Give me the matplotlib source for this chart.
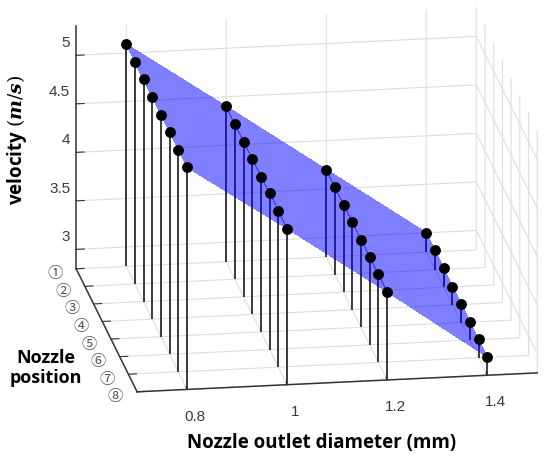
import numpy as np
import matplotlib
matplotlib.use("Agg")   # no display in the sandbox
import matplotlib.pyplot as plt
from mpl_toolkits.mplot3d import proj3d

# --- data ------------------------------------------------------------------
diameters = [0.8, 1.0, 1.2, 1.4]                 # nozzle outlet diameter (mm)
positions = [1, 2, 3, 4, 5, 6, 7, 8]             # nozzle position index
position_labels = ["①", "②", "③", "④", "⑤", "⑥", "⑦", "⑧"]

# velocity (m/s) per diameter, one value per nozzle position
vel_d08 = [5.09, 5.09, 5.09, 5.09, 5.09, 5.09, 5.09, 5.09]
vel_d10 = [4.40, 4.40, 4.40, 4.40, 4.40, 4.41, 4.41, 4.41]
vel_d12 = [3.70, 3.70, 3.70, 3.70, 3.70, 3.71, 3.71, 3.71]
vel_d14 = [3.00, 3.00, 3.00, 2.99, 2.99, 2.99, 2.99, 2.99]

x_ticks = [0.8, 1.0, 1.2, 1.4]
x_tick_labels = ["0.8", "1", "1.2", "1.4"]
z_ticks = [3, 3.5, 4, 4.5, 5]
z_tick_labels = ["3", "3.5", "4", "4.5", "5"]

X_LIM = (0.7, 1.5)
Y_LIM = (8, 1)          # reversed: position 1 at the back
Z_LIM = (2.8, 5.3)

# where the box corners sit in the reference image (pixels, y down)
BOX_CORNERS = [(0.7, 1, 2.8), (0.7, 8, 2.8), (1.5, 8, 2.8), (1.5, 1, 5.3), (0.7, 1, 5.3)]
BOX_TARGETS = [(76, 269), (138, 392), (537, 373), (476, 7), (76, 26)]

plt.rcParams["font.family"] = ["Liberation Sans", "DejaVu Sans"]
plt.rcParams["grid.color"] = "#dedede"
plt.rcParams["grid.linewidth"] = 0.8
plt.rcParams["mathtext.fontset"] = "custom"
plt.rcParams["mathtext.it"] = "DejaVu Serif:italic:bold"
plt.rcParams["mathtext.rm"] = "DejaVu Serif"

LABEL_FONT = dict(family=["Open Sans", "DejaVu Sans"], fontweight="bold", color="black")
TICK_COLOR = "#3a3a3a"


def fit_box(ax, corners, targets):
    """Move/scale the 3D axes so the given box corners land on target pixels."""
    fig = ax.figure
    fig.canvas.draw()
    W, H = fig.bbox.width, fig.bbox.height
    xs, ys, _ = proj3d.proj_transform(*np.array(corners, dtype=float).T, ax.get_proj())
    now = ax.transData.transform(np.column_stack([xs, ys]))
    goal = np.array([(px, H - py) for px, py in targets], dtype=float)
    d_now = now - now.mean(0)
    d_goal = goal - goal.mean(0)
    k = (d_now * d_goal).sum() / (d_now ** 2).sum()
    pos = ax.get_position()
    centre = np.array([(pos.x0 + pos.x1) / 2 * W, (pos.y0 + pos.y1) / 2 * H])
    size = pos.width * W * k
    c_new = goal.mean(0) + k * (centre - now.mean(0))
    ax.set_position([(c_new[0] - size / 2) / W, (c_new[1] - size / 2) / H,
                     size / W, size / H])


def label_at(ax, x, y, z, text, **kw):
    """Flat 2D text anchored at the projection of a 3D point."""
    xs, ys, _ = proj3d.proj_transform(x, y, z, ax.get_proj())
    ax.text2D(xs, ys, text, transform=ax.transData, **kw)


V = np.column_stack([vel_d08, vel_d10, vel_d12, vel_d14])
X, Y = np.meshgrid(diameters, positions)

fig = plt.figure(figsize=(5.5, 4.65), dpi=100)
ax = fig.add_axes([0.1, 0.02, 0.8, 0.8 * 550 / 465], projection="3d",
                  proj_type="ortho", computed_zorder=False)

stems = ax.stem(X.ravel(), Y.ravel(), V.ravel(), bottom=Z_LIM[0],
                linefmt="-", markerfmt="o", basefmt="-")
stems.baseline.set_visible(False)
stems.stemlines.set_color("#2b2b2b")
stems.stemlines.set_linewidth(1.3)
stems.stemlines.set_zorder(2)
stems.markerline.set(color="black", markerfacecolor="black", markersize=6.8, zorder=4)

# one facet per diameter step: velocity is flat along the positions
ax.plot_surface(X, Y, V, color=(0, 0, 1), alpha=0.5, shade=False,
                rstride=len(positions) - 1, cstride=1,
                linewidth=0, edgecolor="none", antialiased=False, zorder=3)

ax.set_xlim(*X_LIM)
ax.set_ylim(*Y_LIM)
ax.set_zlim(*Z_LIM)
ax.set_xticks(x_ticks, [])
ax.set_yticks(positions, [])
ax.set_zticks(z_ticks, [])

for axis in (ax.xaxis, ax.yaxis, ax.zaxis):
    axis.set_pane_color((1, 1, 1, 0))
    axis.pane.set_edgecolor((1, 1, 1, 0))
    axis.line.set_color("#333333")
    axis.line.set_linewidth(1.1)
    axis._axinfo["tick"]["inward_factor"] = 0.0
    axis._axinfo["tick"]["outward_factor"] = 0.25
    axis.set_tick_params(color="#333333")

ax.view_init(elev=18, azim=-98.7)
ax.set_box_aspect((1.0, 0.995, 0.63))

# tick labels placed the MATLAB way, just outside the box edges
for xv, lab in zip(x_ticks, x_tick_labels):
    label_at(ax, xv, Y_LIM[0] + 0.92, Z_LIM[0] - 0.113, lab, ha="center", va="center",
             fontsize=11, color=TICK_COLOR)
for yv, lab in zip(positions, position_labels):
    label_at(ax, X_LIM[0] - 0.043, yv, Z_LIM[0] - 0.041, lab, ha="center", va="center",
             fontsize=11, color="#555555", family=["Noto Sans CJK KR", "DejaVu Sans"])
for zv, lab in zip(z_ticks, z_tick_labels):
    label_at(ax, X_LIM[0], Y_LIM[1] - 0.69, zv, lab, ha="right", va="center",
             fontsize=11, color=TICK_COLOR)

fit_box(ax, BOX_CORNERS, BOX_TARGETS)

fig.text(17 / 550, 1 - 140 / 465, r"velocity $(m/s)$", rotation=90,
         ha="center", va="center", fontsize=13.5, **LABEL_FONT)
fig.text(46 / 550, 1 - 368 / 465, "Nozzle\nposition", ha="center", va="center",
         linespacing=1.15, fontsize=13, **LABEL_FONT)
fig.text(322 / 550, 1 - 443 / 465, "Nozzle outlet diameter (mm)",
         ha="center", va="center", fontsize=13.5, **LABEL_FONT)

fig.savefig("out.png", dpi=100)
